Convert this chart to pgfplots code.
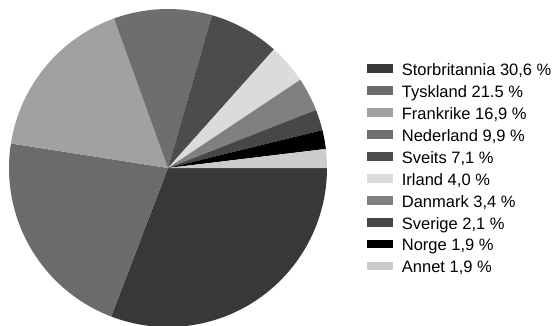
\documentclass[border=0pt]{standalone}
\usepackage{pgfplots}
\usepackage{pgfplotstable}
\pgfplotsset{compat=1.18}
\usepackage{fontspec}
\setmainfont{Liberation Sans}

% andel i prosent, med klokka fra kl. 3
\pgfplotstableread{
land andel
Storbritannia 30.6
Tyskland 21.5
Frankrike 16.9
Nederland 9.9
Sveits 7.1
Irland 4.0
Danmark 3.4
Sverige 2.1
Norge 1.9
Annet 1.9
}\piedata

\definecolor{pie0}{gray}{0.22}
\definecolor{pie1}{gray}{0.42}
\definecolor{pie2}{gray}{0.63}
\definecolor{pie3}{gray}{0.43}
\definecolor{pie4}{gray}{0.30}
\definecolor{pie5}{gray}{0.86}
\definecolor{pie6}{gray}{0.50}
\definecolor{pie7}{gray}{0.28}
\definecolor{pie8}{gray}{0.0}
\definecolor{pie9}{gray}{0.80}

% vinkler (summen er 99,3)
\gdef\cum{0}
\foreach \i in {0,...,9}{%
  \pgfplotstablegetelem{\i}{andel}\of\piedata
  \pgfmathsetmacro\s{-\cum/99.3*360}%
  \pgfmathsetmacro\n{\cum+\pgfplotsretval}%
  \xdef\cum{\n}%
  \pgfmathsetmacro\e{-\cum/99.3*360}%
  \expandafter\xdef\csname ps\i\endcsname{\s}%
  \expandafter\xdef\csname pe\i\endcsname{\e}%
}

\begin{document}
\begin{tikzpicture}
\useasboundingbox (0,0) rectangle (555pt,325pt);
\begin{axis}[
  at={(168pt,157pt)}, anchor=center,
  scale only axis, width=318pt, height=318pt,
  xmin=-1, xmax=1, ymin=-1, ymax=1,
  hide axis, clip=false,
  legend image code/.code={%
    \fill[#1, draw=none] (0pt,-1.5pt) rectangle (26pt,7pt);
    \path[draw=none, fill=none] (0pt,0pt) -- (34.7pt,0pt);},
  legend style={at={(1.1258,0.828)}, anchor=north west,
    draw=none, fill=none, inner sep=0pt, row sep=6.95pt,
    font=\fontsize{16.5}{19}\selectfont,
    nodes={inner sep=0pt, text height=11.5pt, text depth=3.5pt}},
  legend cell align=left,
]
\pgfplotsinvokeforeach{0,...,9}{%
  \edef\tmp{\noexpand\fill[pie#1] (axis cs:0,0) -- ++(\csname ps#1\endcsname:159pt)
    arc[start angle=\csname ps#1\endcsname, end angle=\csname pe#1\endcsname, radius=159pt] -- cycle;}%
  \tmp
}
\addlegendimage{fill=pie0}\addlegendentry{Storbritannia 30,6 \%}
\addlegendimage{fill=pie1}\addlegendentry{Tyskland 21.5 \%}
\addlegendimage{fill=pie2}\addlegendentry{Frankrike 16,9 \%}
\addlegendimage{fill=pie3}\addlegendentry{Nederland 9,9 \%}
\addlegendimage{fill=pie4}\addlegendentry{Sveits 7,1 \%}
\addlegendimage{fill=pie5}\addlegendentry{Irland 4,0 \%}
\addlegendimage{fill=pie6}\addlegendentry{Danmark 3,4 \%}
\addlegendimage{fill=pie7}\addlegendentry{Sverige 2,1 \%}
\addlegendimage{fill=pie8}\addlegendentry{Norge 1,9 \%}
\addlegendimage{fill=pie9}\addlegendentry{Annet 1,9 \%}
\end{axis}
\end{tikzpicture}
\end{document}
